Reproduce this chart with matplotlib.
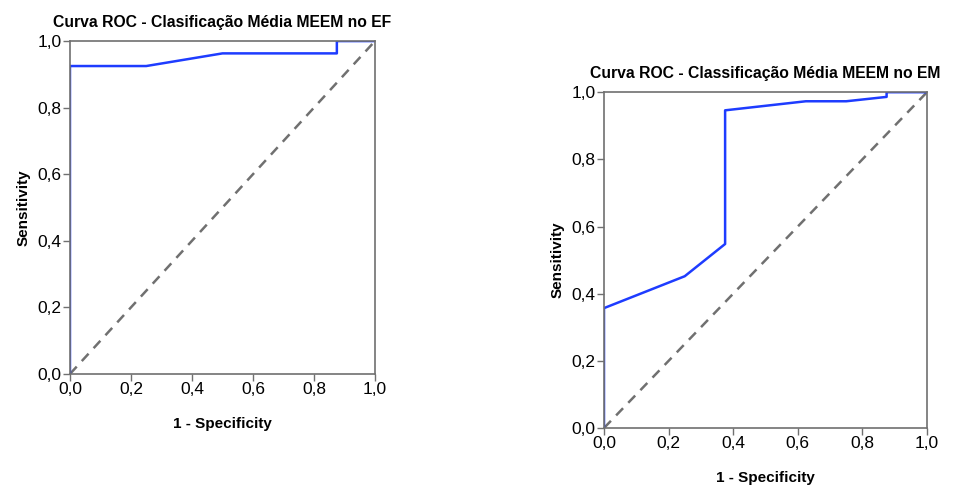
import matplotlib.pyplot as plt
import matplotlib.ticker as mticker

plt.rcParams['font.family'] = ['Liberation Sans', 'DejaVu Sans']

# ROC curve points
ef_fpr = [0.0, 0.0, 0.25, 0.5, 0.875, 0.875, 1.0]
ef_tpr = [0.0, 0.925, 0.925, 0.963, 0.963, 1.0, 1.0]

em_fpr = [0.0, 0.0, 0.25, 0.375, 0.375, 0.625, 0.75, 0.875, 0.875, 1.0]
em_tpr = [0.0, 0.357, 0.452, 0.548, 0.946, 0.973, 0.973, 0.986, 1.0, 1.0]

titles = ['Curva ROC - Clasificação Média MEEM no EF',
          'Curva ROC - Classificação Média MEEM no EM']
ticks = [0.0, 0.2, 0.4, 0.6, 0.8, 1.0]

fig = plt.figure(figsize=(9.61, 4.86), dpi=100)
ax1 = fig.add_axes([0.0728, 0.2305, 0.3174, 0.685])
ax2 = fig.add_axes([0.6285, 0.1193, 0.3361, 0.691])

comma = mticker.FuncFormatter(lambda v, p: f'{v:.1f}'.replace('.', ','))

for ax, fpr, tpr, title in [(ax1, ef_fpr, ef_tpr, titles[0]),
                            (ax2, em_fpr, em_tpr, titles[1])]:
    ax.plot([0, 1], [0, 1], linestyle=(0, (4, 3)), color='#707070', linewidth=1.8)
    ax.plot(fpr, tpr, color='#1e3cff', linewidth=1.8)
    ax.set_xlim(0, 1)
    ax.set_ylim(0, 1)
    ax.set_xticks(ticks)
    ax.set_yticks(ticks)
    ax.xaxis.set_major_formatter(comma)
    ax.yaxis.set_major_formatter(comma)
    ax.tick_params(direction='out', length=5, width=1, color='#707070',
                   labelsize=12.5, pad=1, top=False, right=False)
    for s in ax.spines.values():
        s.set_color('#707070')
        s.set_linewidth(1.2)
    ax.set_xlabel('1 - Specificity', fontsize=11, fontweight='bold', labelpad=14)
    ax.set_ylabel('Sensitivity', fontsize=11, fontweight='bold', labelpad=5)
    ax.set_title(title, fontsize=11.3, fontweight='bold', pad=10)

fig.savefig('out.png', dpi=100)
